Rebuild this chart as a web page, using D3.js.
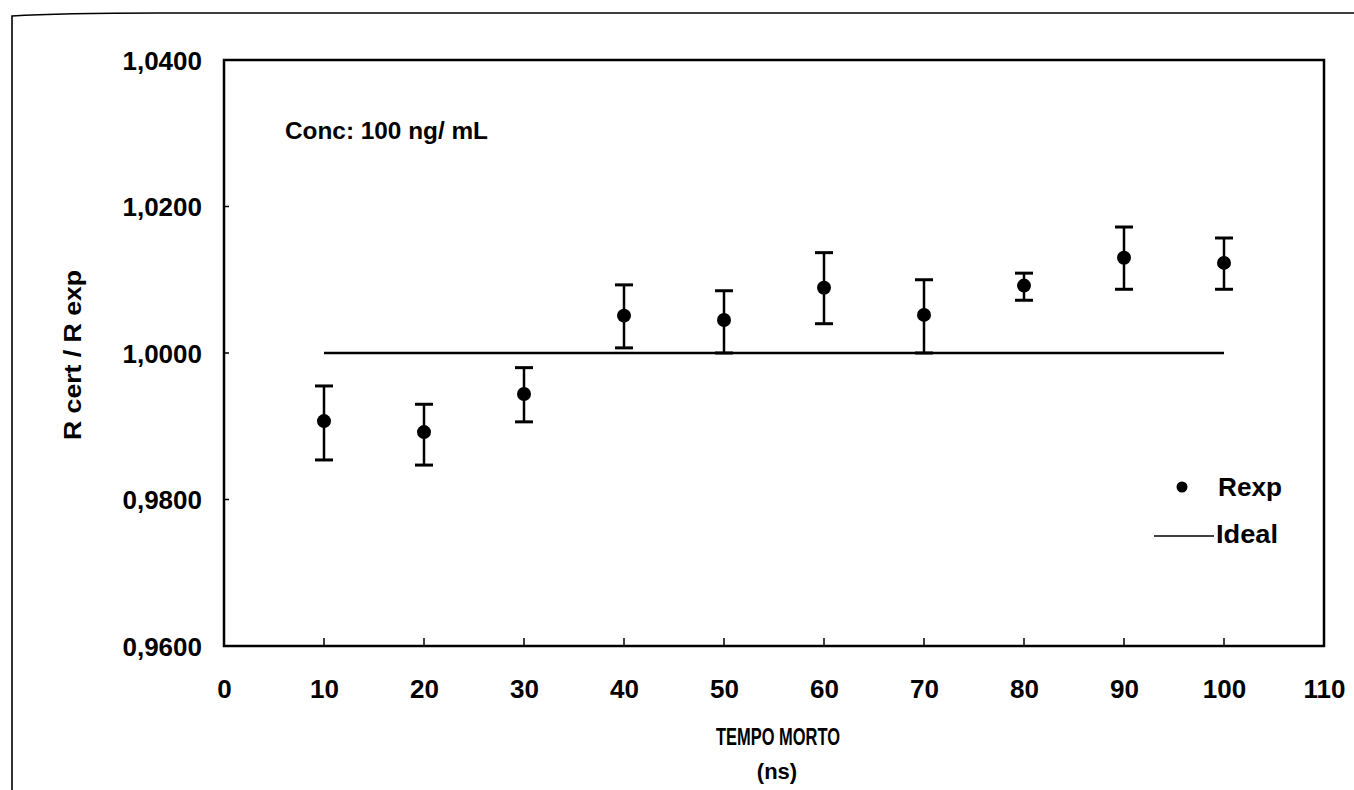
<!DOCTYPE html>
<html><head><meta charset="utf-8">
<script src="https://cdn.jsdelivr.net/npm/d3@7"></script>
<style>
html,body{margin:0;padding:0;background:#fff;}
svg text{font-family:"Liberation Sans",Arial,sans-serif;font-weight:bold;fill:#000;}
</style></head>
<body>
<script>
// Data
const tempo = [10, 20, 30, 40, 50, 60, 70, 80, 90, 100];
const rexp  = [0.9907, 0.9892, 0.9944, 1.0051, 1.0045, 1.0089, 1.0052, 1.0092, 1.0130, 1.0123];
const upper = [0.9955, 0.9930, 0.9980, 1.0093, 1.0085, 1.0137, 1.0100, 1.0109, 1.0172, 1.0157];
const lower = [0.9854, 0.9847, 0.9906, 1.0007, 1.0000, 1.0040, 1.0000, 1.0072, 1.0087, 1.0087];
const idealX = [10, 100];
const idealY = [1.0, 1.0];
const xTicks = [0, 10, 20, 30, 40, 50, 60, 70, 80, 90, 100, 110];
const yTicks = [0.96, 0.98, 1.00, 1.02, 1.04];

const W = 1354, H = 790;
const svg = d3.select("body").append("svg").attr("width", W).attr("height", H);

// outer frame (scanned page border)
svg.append("path")
  .attr("d", "M12,790 L12,16 Q60,13 160,13 L1354,13")
  .attr("fill", "none").attr("stroke", "#000").attr("stroke-width", 1.6);

const m = {l: 224, r: 1324, t: 60, b: 646};
const x = d3.scaleLinear().domain([0, 110]).range([m.l, m.r]);
const y = d3.scaleLinear().domain([0.96, 1.04]).range([m.b, m.t]);

// plot frame
svg.append("rect").attr("x", m.l).attr("y", m.t).attr("width", m.r - m.l).attr("height", m.b - m.t)
  .attr("fill", "none").attr("stroke", "#000").attr("stroke-width", 2.5);

const fmt = d => d3.format(".4f")(d).replace(".", ",");

// y axis
const yAx = svg.append("g").attr("transform", `translate(${m.l},0)`)
  .call(d3.axisLeft(y).tickValues(yTicks).tickSize(0).tickPadding(22).tickFormat(fmt));
yAx.select(".domain").remove();
yAx.selectAll("text").style("font-size", "26px").attr("font-family", null).attr("dy", "0.36em");
svg.append("g").selectAll("line").data(yTicks).join("line")
  .attr("x1", m.l).attr("x2", m.l + 5).attr("y1", d => y(d)).attr("y2", d => y(d))
  .attr("stroke", "#000").attr("stroke-width", 1.5);

// x axis
const xAx = svg.append("g").attr("transform", `translate(0,${m.b})`)
  .call(d3.axisBottom(x).tickValues(xTicks).tickSize(0).tickPadding(34).tickFormat(d3.format("d")));
xAx.select(".domain").remove();
xAx.selectAll("text").style("font-size", "26px").attr("font-family", null);
svg.append("g").selectAll("line").data(xTicks).join("line")
  .attr("x1", d => x(d)).attr("x2", d => x(d)).attr("y1", m.b).attr("y2", m.b - 8)
  .attr("stroke", "#000").attr("stroke-width", 1.5);

// ideal line
svg.append("path")
  .attr("d", d3.line().x((d, i) => x(d)).y((d, i) => y(idealY[i]))(idealX))
  .attr("stroke", "#000").attr("stroke-width", 2.5).attr("fill", "none");

// error bars
const g = svg.append("g");
tempo.forEach((t, i) => {
  const cx = x(t);
  g.append("line").attr("x1", cx).attr("x2", cx).attr("y1", y(upper[i])).attr("y2", y(lower[i]))
    .attr("stroke", "#000").attr("stroke-width", 2.5);
  [upper[i], lower[i]].forEach(v => {
    g.append("line").attr("x1", cx - 9).attr("x2", cx + 9).attr("y1", y(v)).attr("y2", y(v))
      .attr("stroke", "#000").attr("stroke-width", 3);
  });
  g.append("circle").attr("cx", cx).attr("cy", y(rexp[i])).attr("r", 7).attr("fill", "#000");
});

// annotation
svg.append("text").attr("x", 285).attr("y", 139).style("font-size", "23px")
  .attr("textLength", 203).attr("lengthAdjust", "spacingAndGlyphs").text("Conc: 100 ng/ mL");

// legend
svg.append("circle").attr("cx", 1182).attr("cy", 487).attr("r", 5.5).attr("fill", "#000");
svg.append("text").attr("x", 1218).attr("y", 496).style("font-size", "25px")
  .attr("textLength", 64).attr("lengthAdjust", "spacingAndGlyphs").text("Rexp");
svg.append("line").attr("x1", 1154).attr("x2", 1214).attr("y1", 536).attr("y2", 536)
  .attr("stroke", "#000").attr("stroke-width", 1.5);
svg.append("text").attr("x", 1216).attr("y", 543).style("font-size", "25px")
  .attr("textLength", 62).attr("lengthAdjust", "spacingAndGlyphs").text("Ideal");

// axis titles
svg.append("text").attr("x", 716).attr("y", 745)
  .style("font-size", "24px").attr("textLength", 124).attr("lengthAdjust", "spacingAndGlyphs").text("TEMPO MORTO");
svg.append("text").attr("x", 777).attr("y", 779).attr("text-anchor", "middle")
  .style("font-size", "22px").text("(ns)");
svg.append("text").attr("transform", "translate(81,440) rotate(-90)")
  .style("font-size", "24px").attr("textLength", 170).attr("lengthAdjust", "spacingAndGlyphs").text("R cert / R exp");
</script>
</body></html>
